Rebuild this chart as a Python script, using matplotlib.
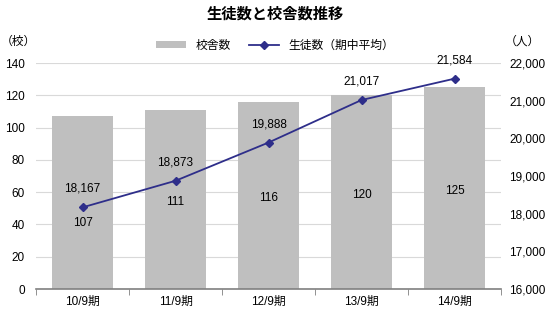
import matplotlib.pyplot as plt
import numpy as np

plt.rcParams['font.family'] = ['Liberation Sans', 'Noto Sans CJK JP']

categories = ['10/9期', '11/9期', '12/9期', '13/9期', '14/9期']
schools = [107, 111, 116, 120, 125]
students = [18167, 18873, 19888, 21017, 21584]

fig = plt.figure(figsize=(5.5, 3.17), dpi=100)
ax = fig.add_axes([36/550, 28/317, 465/550, 226/317])
x = np.arange(len(categories))
ax.bar(x, schools, width=0.66, color='#bfbfbf', zorder=2, label='校舎数')
ax.set_ylim(0, 140)
ax.set_xlim(-0.5, len(categories) - 0.5)
ax.set_yticks(range(0, 141, 20))
ax.yaxis.grid(True, color='#d9d9d9', linewidth=0.8, zorder=0)
ax.set_axisbelow(True)
for s in ['top', 'right', 'left']:
    ax.spines[s].set_visible(False)
ax.spines['bottom'].set_color('#808080')
ax.spines['bottom'].set_linewidth(1.2)
ax.tick_params(axis='y', length=0, labelsize=8.5, pad=8)
ax.set_xticks(x)
ax.set_xticklabels(categories, fontsize=8.5)
ax.tick_params(axis='x', length=0, pad=5)
ax.set_xticks(np.arange(-0.5, len(categories), 1), minor=True)
ax.tick_params(axis='x', which='minor', length=4, color='#808080', direction='out')

for i, v in enumerate(schools):
    yy = v / 2 - 1.5 if i > 0 else 41
    ax.text(i, yy, str(v), ha='center', va='center', fontsize=8.5, zorder=5)

ax2 = ax.twinx()
ax2.plot(x, students, color='#2e2e8a', marker='D', markersize=4.5, linewidth=1.3,
         zorder=4, label='生徒数（期中平均）')
ax2.set_ylim(16000, 22000)
ax2.set_yticks(range(16000, 22001, 1000))
ax2.set_yticklabels([f'{v:,}' for v in range(16000, 22001, 1000)])
for s in ['top', 'right', 'left', 'bottom']:
    ax2.spines[s].set_visible(False)
ax2.tick_params(axis='y', length=0, labelsize=8.5, pad=6)
for i, v in enumerate(students):
    ax2.annotate(f'{v:,}', (i, v), xytext=(0, 9), textcoords='offset points',
                 ha='center', va='bottom', fontsize=8.5, zorder=5)

fig.suptitle('生徒数と校舎数推移', x=0.5, y=1 - 14/317, va='center', fontsize=11,
             fontweight='semibold')
fig.text(1/550, 1 - 42/317, '（校）', ha='left', va='center', fontsize=8.5)
fig.text(522/550, 1 - 42/317, '（人）', ha='center', va='center', fontsize=8.5)

h1, l1 = ax.get_legend_handles_labels()
h2, l2 = ax2.get_legend_handles_labels()
fig.legend(h1 + h2, l1 + l2, loc='center', bbox_to_anchor=(0.5, 1 - 46/317), ncol=2,
           frameon=False, fontsize=8.5, handlelength=2.6, handleheight=0.5, columnspacing=1.5)

fig.savefig('out.png', dpi=100)
